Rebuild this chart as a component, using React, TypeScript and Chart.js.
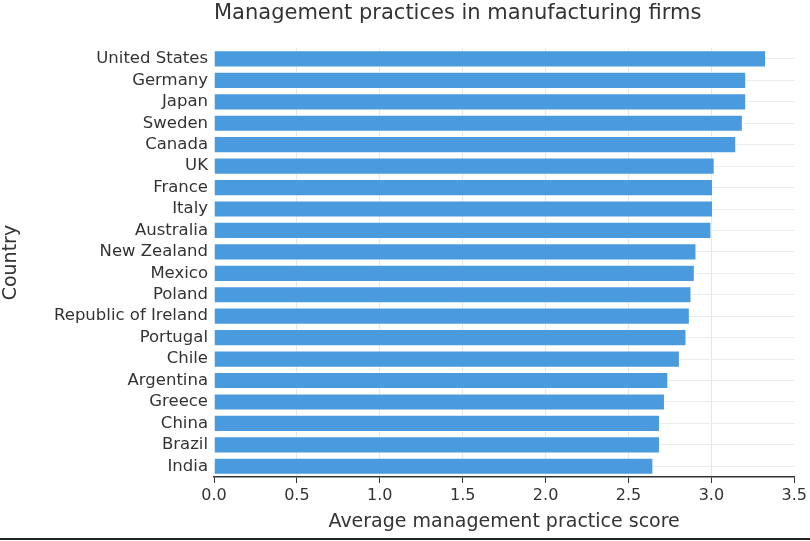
import { useEffect, useRef } from "react";
import Chart from "chart.js/auto";

const countries = [
  "United States",
  "Germany",
  "Japan",
  "Sweden",
  "Canada",
  "UK",
  "France",
  "Italy",
  "Australia",
  "New Zealand",
  "Mexico",
  "Poland",
  "Republic of Ireland",
  "Portugal",
  "Chile",
  "Argentina",
  "Greece",
  "China",
  "Brazil",
  "India",
];

const scores = [
  3.33, 3.21, 3.21, 3.19, 3.15, 3.02, 3.01, 3.01, 3.0, 2.91, 2.9, 2.88, 2.87,
  2.85, 2.81, 2.74, 2.72, 2.69, 2.69, 2.65,
];

const xTicks = [0, 0.5, 1, 1.5, 2, 2.5, 3, 3.5];

const FONT = "'DejaVu Sans', sans-serif";
const TEXT = "#333333";

export default function App() {
  const canvasRef = useRef<HTMLCanvasElement>(null);

  useEffect(() => {
    document.body.style.margin = "0";
    if (!canvasRef.current) return;

    const chart = new Chart(canvasRef.current, {
      type: "bar",
      data: {
        labels: countries,
        datasets: [
          {
            label: "Average management practice score",
            data: scores,
            backgroundColor: "rgb(74, 154, 222)",
            borderColor: "rgba(255, 255, 255, 0.6)",
            borderWidth: 1,
            barPercentage: 0.8,
            categoryPercentage: 1,
          },
        ],
      },
      options: {
        indexAxis: "y",
        animation: false,
        responsive: false,
        maintainAspectRatio: false,
        layout: { padding: { left: 0, right: 14, top: 0, bottom: 5 } },
        plugins: {
          legend: { display: false },
          tooltip: { enabled: false },
          title: {
            display: true,
            text: "Management practices in manufacturing firms",
            align: "start",
            color: TEXT,
            font: { family: FONT, size: 21, weight: "normal" },
            padding: { top: 1, bottom: 22 },
          },
        },
        scales: {
          x: {
            type: "linear",
            min: 0,
            max: 3.5,
            afterBuildTicks: (axis) => {
              axis.ticks = xTicks.map((value) => ({ value }));
            },
            grid: {
              color: (ctx) =>
                ctx.tick && (ctx.tick.value === 0 || ctx.tick.value === 3.5)
                  ? "rgba(0,0,0,0)"
                  : "#e6e6e6",
              tickColor: "#333333",
              tickLength: 6,
            },
            border: { color: "#333333", width: 1.5 },
            ticks: {
              color: TEXT,
              font: { family: FONT, size: 16 },
              padding: 3,
              callback: (value) => Number(value).toFixed(1),
            },
            title: {
              display: true,
              text: "Average management practice score",
              color: TEXT,
              font: { family: FONT, size: 19 },
              padding: { top: 2, bottom: 0 },
            },
          },
          y: {
            afterFit: (scale) => {
              scale.width = 214;
            },
            grid: {
              color: "#ececec",
              offset: false,
              drawTicks: false,
            },
            border: { display: false },
            ticks: {
              color: TEXT,
              font: { family: FONT, size: 16.5 },
              padding: 6,
              autoSkip: false,
            },
            title: {
              display: true,
              text: "Country",
              color: TEXT,
              font: { family: FONT, size: 19 },
              padding: { top: 0, bottom: 0 },
            },
          },
        },
      },
      plugins: [
        {
          id: "titleOverPlot",
          afterLayout(c) {
            const block = (c as any).titleBlock;
            if (block) block.left = c.chartArea.left;
          },
        },
      ],
    });

    return () => chart.destroy();
  }, []);

  return (
    <div style={{ width: 810, height: 541, background: "#fff" }}>
      <canvas
        ref={canvasRef}
        width={810}
        height={538}
        style={{ display: "block", width: 810, height: 538 }}
      ></canvas>
      <div style={{ height: 2, background: "#222" }}></div>
    </div>
  );
}
